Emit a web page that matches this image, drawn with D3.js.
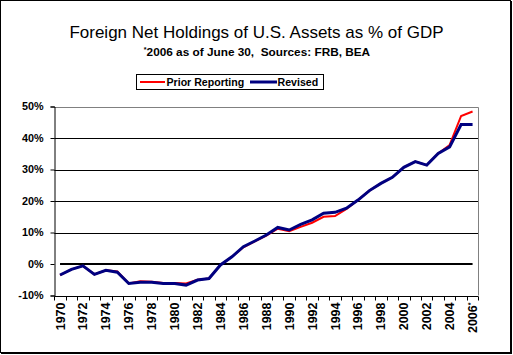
<!DOCTYPE html>
<html><head><meta charset="utf-8">
<script src="https://cdn.jsdelivr.net/npm/d3@7"></script>
<style>
html,body{margin:0;padding:0;background:#fff;}
svg{display:block;font-family:Arial,"Liberation Sans",sans-serif;}
.pre{white-space:pre;}
</style></head>
<body><svg id="c" width="513" height="355"></svg>
<script>
const years = d3.range(1970, 2007);
const revised = [-3.5,-1.7,-0.6,-3.3,-2.0,-2.6,-6.2,-5.8,-5.8,-6.2,-6.2,-6.7,-5.1,-4.6,-0.3,2.3,5.5,7.3,9.2,11.6,10.8,12.6,14.0,16.1,16.4,17.7,20.3,23.3,25.6,27.5,30.7,32.5,31.4,35.1,37.2,44.3,44.3];
const prior = [-3.5,-1.7,-0.6,-3.3,-2.0,-2.4,-6.2,-5.5,-5.6,-6.0,-6.0,-6.2,-5.0,-4.6,-0.3,2.3,5.3,7.2,9.0,11.2,10.4,11.8,13.1,15.0,15.2,17.5,20.3,23.3,25.6,27.5,30.7,32.5,31.4,35.1,37.8,47.0,48.4];
const yTicks = [-10,0,10,20,30,40,50];
const gridValues = [10,20,30,40];
const title = "Foreign Net Holdings of U.S. Assets as % of GDP";
const subtitle = "2006 as of June 30,  Sources: FRB, BEA";
const seriesNames = ["Prior Reporting","Revised"];
const colors = ["#FF0000","#000080"];

const svg = d3.select("#c");
const L = 54.3, R = 478.3, T = 106.5, B = 295.5;
const x = d3.scaleBand().domain(years).range([L, R]).padding(0);
const y = d3.scaleLinear().domain([-10, 50]).range([B, T]);
const cx = d => x(d) + x.bandwidth()/2;

// outer border
svg.append("rect").attr("x",0.5).attr("y",0.5).attr("width",510).attr("height",352)
  .attr("fill","none").attr("stroke","#000");
svg.append("path").attr("d","M511.5,1V354M1,353.5H512").attr("stroke","#000");

// titles
svg.append("text").attr("x",256.5).attr("y",37.5).attr("text-anchor","middle")
  .attr("font-size",17).text(title);
const st = svg.append("text").attr("class","pre").attr("x",257).attr("y",56).attr("text-anchor","middle")
  .attr("font-size",11.8).attr("font-weight","bold");
st.append("tspan").attr("font-size",7).attr("dy",-4).text("*");
st.append("tspan").attr("dy",4).text(subtitle);

// gridlines
svg.append("g").selectAll("line").data(gridValues).join("line")
  .attr("x1",L).attr("x2",R).attr("y1",d=>Math.round(y(d))+0.5).attr("y2",d=>Math.round(y(d))+0.5)
  .attr("stroke","#000");

// plot border top/right (gray)
svg.append("path").attr("d",`M${L},${Math.round(T)+0.5}H${Math.round(R)+0.5}V${B}`)
  .attr("fill","none").attr("stroke","#808080");

// y axis
const ya = svg.append("g").attr("transform",`translate(${Math.round(L)+0.5},0)`)
  .call(d3.axisLeft(y).tickValues(yTicks).tickSize(4).tickPadding(7).tickFormat(d=>d+"%"));
ya.select(".domain").attr("stroke","#000");
ya.selectAll(".tick line").attr("stroke","#000");
ya.selectAll("text").attr("font-size",10.8).attr("font-weight","bold").attr("font-family","Arial,'Liberation Sans',sans-serif").attr("fill","#000");

// x axis line + boundary ticks
const by = Math.round(B)+0.5;
svg.append("line").attr("x1",L).attr("x2",R).attr("y1",by).attr("y2",by).attr("stroke","#000");
const bounds = years.map(d=>x(d)).concat([x(years[years.length-1])+x.bandwidth()]);
svg.append("g").selectAll("line").data(bounds).join("line")
  .attr("x1",d=>Math.round(d)+0.5).attr("x2",d=>Math.round(d)+0.5)
  .attr("y1",by).attr("y2",by+4).attr("stroke","#000");

// x labels
const xa = svg.append("g").attr("transform",`translate(0,${B})`)
  .call(d3.axisBottom(x).tickSize(0).tickFormat(d => (d%2===0) ? String(d) : ""));
xa.select(".domain").remove();
xa.selectAll(".tick text").each(function(d){
  const t = d3.select(this);
  t.text(null);
  if (d%2!==0) return;
  t.attr("transform","rotate(-90)").attr("x",-7).attr("y",0).attr("dy","0.36em")
   .attr("text-anchor","end").attr("font-size",12.5).attr("font-weight","bold")
   .attr("font-family","Arial,'Liberation Sans',sans-serif").attr("fill","#000");
  t.append("tspan").text(String(d));
  if (d===2006) t.append("tspan").attr("font-size",7).attr("dy","-0.6em").text("*");
});

// zero line
svg.append("line").attr("x1",cx(years[0])).attr("x2",cx(years[years.length-1]))
  .attr("y1",y(0)).attr("y2",y(0)).attr("stroke","#000").attr("stroke-width",2);

// series
const line = d3.line().x((d,i)=>cx(years[i])).y(d=>y(d));
svg.append("path").datum(prior).attr("d",line).attr("fill","none")
  .attr("stroke",colors[0]).attr("stroke-width",2);
svg.append("path").datum(revised).attr("d",line).attr("fill","none")
  .attr("stroke",colors[1]).attr("stroke-width",3);

// legend
svg.append("rect").attr("x",136.5).attr("y",74.5).attr("width",187).attr("height",15)
  .attr("fill","#fff").attr("stroke","#000");
const lg = [{x1:140,x2:165,tx:166.5,w:2},{x1:250,x2:277,tx:277.5,w:3}];
lg.forEach((l,i)=>{
  svg.append("line").attr("x1",l.x1).attr("x2",l.x2).attr("y1",82).attr("y2",82)
    .attr("stroke",colors[i]).attr("stroke-width",l.w);
  svg.append("text").attr("x",l.tx).attr("y",86).attr("font-size",10.6)
    .attr("font-weight","bold").text(seriesNames[i]);
});
</script></body></html>
